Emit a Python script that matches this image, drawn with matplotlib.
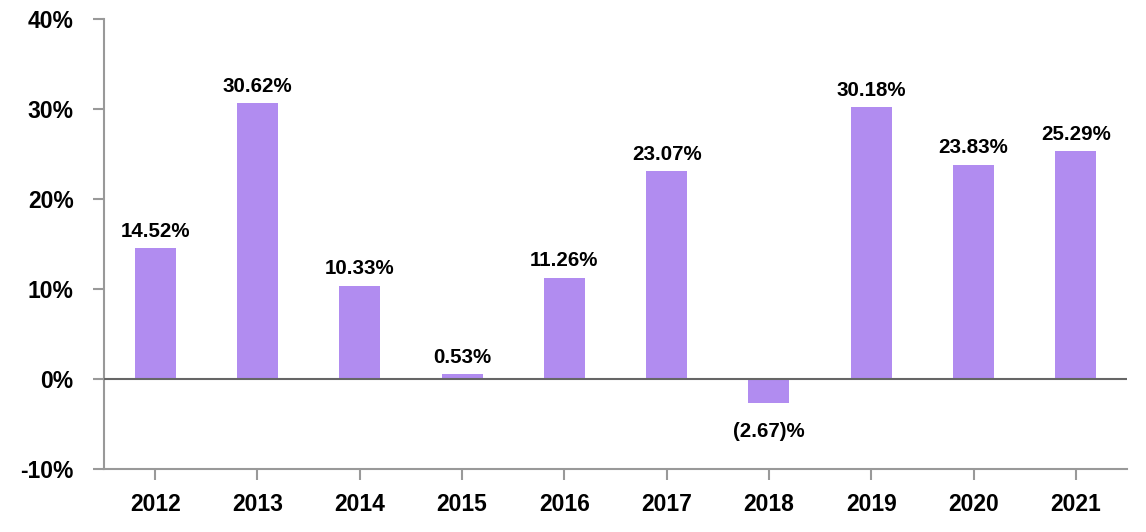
import matplotlib
matplotlib.use("Agg")
import matplotlib.pyplot as plt
import numpy as np

plt.rcParams['font.family'] = ['Liberation Sans', 'DejaVu Sans']

# data
years = ['2012', '2013', '2014', '2015', '2016', '2017', '2018', '2019', '2020', '2021']
returns = [14.52, 30.62, 10.33, 0.53, 11.26, 23.07, -2.67, 30.18, 23.83, 25.29]
y_ticks = [-10, 0, 10, 20, 30, 40]

fig = plt.figure(figsize=(11.46, 5.32), dpi=100)
ax = fig.add_axes([0.0908, 0.1184, 0.8926, 0.8459])

x = np.arange(len(years))
ax.bar(x, returns, width=0.4, color='#B18CF0', zorder=2)
ax.axhline(0, color='#666666', lw=1.5, zorder=3)

for xi, v in zip(x, returns):
    if v >= 0:
        ax.text(xi, v + 1.3, f'{v:.2f}%', ha='center', va='baseline',
                fontsize=14.8, fontweight='bold')
    else:
        ax.text(xi, v - 2.1, f'({abs(v):.2f})%', ha='center', va='top',
                fontsize=14.8, fontweight='bold')

ax.set_xlim(-0.5, len(years) - 0.5)
ax.set_ylim(-10, 40)
ax.set_yticks(y_ticks)
ax.set_yticklabels([f'{t}%' for t in y_ticks])
ax.set_xticks(x)
ax.set_xticklabels(years)

for s in ['top', 'right']:
    ax.spines[s].set_visible(False)
for s in ['left', 'bottom']:
    ax.spines[s].set_color('#999999')
    ax.spines[s].set_linewidth(1.5)

ax.tick_params(axis='both', colors='#999999', length=8, width=1.5)
ax.tick_params(axis='y', pad=14, labelsize=16.5, labelcolor='black')
ax.tick_params(axis='x', pad=9, labelsize=16.5, labelcolor='black')
for lab in ax.get_xticklabels() + ax.get_yticklabels():
    lab.set_fontweight('bold')

fig.savefig('out.png', dpi=100)
